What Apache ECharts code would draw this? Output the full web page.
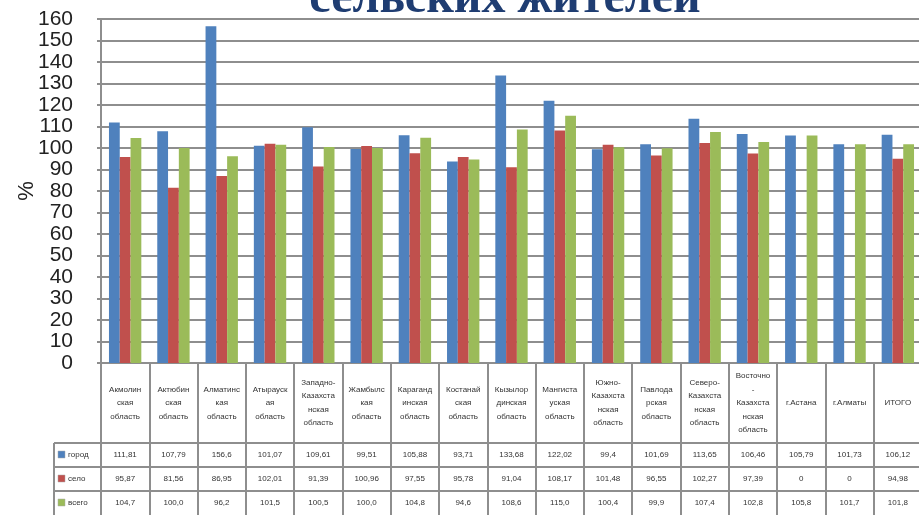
<!DOCTYPE html>
<html><head><meta charset="utf-8">
<script src="https://cdn.jsdelivr.net/npm/echarts@6/dist/echarts.min.js"></script>
<style>html,body{margin:0;padding:0;background:#fff}#c{width:919px;height:515px}</style>
</head><body><div id="c"></div>
<script>
const categories = [
  "Акмолин\nская\nобласть","Актюбин\nская\nобласть","Алматинс\nкая\nобласть","Атырауск\nая\nобласть",
  "Западно-\nКазахста\nнская\nобласть","Жамбылс\nкая\nобласть","Караганд\nинская\nобласть","Костанай\nская\nобласть",
  "Кызылор\nдинская\nобласть","Мангиста\nуская\nобласть","Южно-\nКазахста\nнская\nобласть","Павлода\nрская\nобласть",
  "Северо-\nКазахста\nнская\nобласть","Восточно\n-\nКазахста\nнская\nобласть","г.Астана","г.Алматы","ИТОГО"
];
const seriesNames = ["город","село","всего"];
const gorod = [111.81,107.79,156.6,101.07,109.61,99.51,105.88,93.71,133.68,122.02,99.4,101.69,113.65,106.46,105.79,101.73,106.12];
const selo  = [95.87,81.56,86.95,102.01,91.39,100.96,97.55,95.78,91.04,108.17,101.48,96.55,102.27,97.39,0,0,94.98];
const vsego = [104.7,100.0,96.2,101.5,100.5,100.0,104.8,94.6,108.6,115.0,100.4,99.9,107.4,102.8,105.8,101.7,101.8];
const yTicks = {min:0, max:160, interval:10};
const titleText = "сельских жителей";

const colors = ["#4F81BD","#C0504D","#9BBB59"];
const lineCol = "#8e8e8e";
const fmtA = v => String(v).replace('.', ',');
const fmtB = v => v.toFixed(1).replace('.', ',');
const rowData = [gorod.map(fmtA), selo.map(fmtA), vsego.map(fmtB)];
const seriesData = [gorod, selo, vsego];

const catRowH = 80, rowH = 24;
const tableLabelFont = {fontFamily:"'Liberation Sans', Arial, sans-serif", fontSize:8, color:"#333"};

const xAxes = [{
  type:'category', data:categories, gridIndex:0, position:'bottom',
  axisLine:{show:true, lineStyle:{color:lineCol, width:2}},
  axisTick:{show:true, length:catRowH, interval:0, lineStyle:{color:lineCol, width:2}},
  axisLabel:Object.assign({interval:0, margin:catRowH/2, verticalAlign:'middle', lineHeight:13.5, align:'center'}, tableLabelFont)
}];
rowData.forEach((r,i)=>{
  xAxes.push({
    type:'category', data:r, gridIndex:0, position:'bottom', offset:catRowH + i*rowH,
    axisLine:{show:true, lineStyle:{color:lineCol, width:2}},
    axisTick:{show:true, length:rowH, interval:0, lineStyle:{color:lineCol, width:2}},
    axisLabel:Object.assign({interval:0, margin:rowH/2, verticalAlign:'middle', align:'center'}, tableLabelFont)
  });
});

const gridLeft = 101, gridBottom = 152;
const graphic = [{
  type:'text', x:505, y:24,
  style:{text:titleText, font:"bold 48px 'Liberation Serif', 'DejaVu Serif', serif", fill:"#1F3D72", align:'center', verticalAlign:'bottom'}
}];
const hx = 54, hy0 = 515 - gridBottom + catRowH;
graphic.push({type:'line', shape:{x1:hx, y1:hy0, x2:hx, y2:hy0+rowH*3}, style:{stroke:lineCol, lineWidth:2}});
seriesNames.forEach((n,i)=>{
  const y = hy0 + i*rowH;
  graphic.push({type:'line', shape:{x1:hx, y1:y, x2:gridLeft, y2:y}, style:{stroke:lineCol, lineWidth:2}});
  graphic.push({type:'rect', shape:{x:hx+4, y:y+rowH/2-4, width:7, height:7}, style:{fill:colors[i], stroke:'#aaa', lineWidth:0.5}});
  graphic.push({type:'text', x:hx+14, y:y+rowH/2, style:{text:n, font:"8px 'Liberation Sans', Arial, sans-serif", fill:'#333', verticalAlign:'middle'}});
});

const chart = echarts.init(document.getElementById('c'));
chart.setOption({
  animation:false,
  backgroundColor:'#fff',
  color:colors,
  grid:{left:gridLeft, right:-3, top:19, bottom:gridBottom, containLabel:false, outerBoundsMode:'none'},
  xAxis:xAxes,
  yAxis:{
    type:'value', min:yTicks.min, max:yTicks.max, interval:yTicks.interval,
    name:'%', nameLocation:'middle', nameGap:63, nameRotate:90, nameMoveOverlap:false,
    nameTextStyle:{fontFamily:"'Liberation Sans', Arial, sans-serif", fontSize:22, color:'#222'},
    axisLine:{show:true, lineStyle:{color:lineCol, width:2}},
    axisTick:{show:true, length:4, lineStyle:{color:lineCol, width:2}},
    axisLabel:{fontFamily:"'Liberation Sans', Arial, sans-serif", fontSize:21, color:'#222', margin:28, lineHeight:17, showMinLabel:true, showMaxLabel:true, hideOverlap:false},
    splitLine:{show:true, lineStyle:{color:lineCol, width:2}}
  },
  series:seriesNames.map((n,i)=>({
    name:n, type:'bar', data:seriesData[i], xAxisIndex:0,
    barGap:'0%', barCategoryGap:'33%', itemStyle:{color:colors[i]}
  })),
  graphic:graphic
});
</script></body></html>
